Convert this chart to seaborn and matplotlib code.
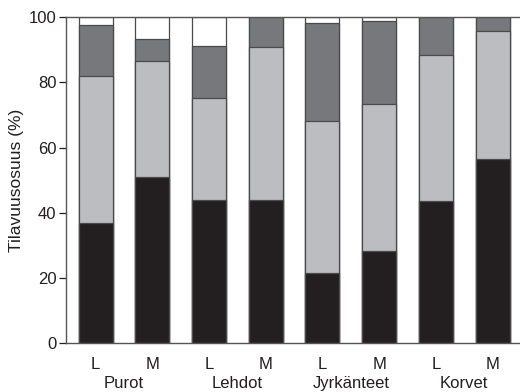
import matplotlib
matplotlib.use("Agg")
import matplotlib.pyplot as plt
import matplotlib.transforms as mtransforms
import numpy as np
import pandas as pd
import seaborn as sns

# Habitat groups and the two sample types within each
groups = ["Purot", "Lehdot", "Jyrkänteet", "Korvet"]
types = ["L", "M"]

# Volume shares (%) of each component per bar, bottom to top
share_black = [37.0, 51.1, 43.9, 43.9, 21.5, 28.3, 43.7, 56.5]
share_light = [44.9, 35.4, 31.4, 47.0, 46.6, 44.9, 44.7, 39.3]
share_dark = [15.5, 6.7, 15.8, 9.1, 30.2, 25.7, 11.6, 4.2]
share_white = [2.6, 6.8, 8.9, 0.0, 1.7, 1.1, 0.0, 0.0]

layer_names = ["black", "light", "dark", "white"]
layer_colors = ["#231f20", "#bcbdc0", "#77787b", "#ffffff"]

sns.set_style("ticks")
plt.rcParams["font.family"] = ["Liberation Sans", "DejaVu Sans"]

bar_ids = [f"{g}-{t}" for g in groups for t in types]
layers = np.array([share_black, share_light, share_dark, share_white])
tops = np.cumsum(layers, axis=0)

df = pd.DataFrame({"bar": bar_ids})
for name, top in zip(layer_names, tops):
    df[name] = top

fig = plt.figure(figsize=(5.2, 3.92), dpi=100)
ax = fig.add_axes([0.127, 0.1242, 0.877, 0.8324])

# Stack by drawing the cumulative totals from the top layer downwards
for name, color in reversed(list(zip(layer_names, layer_colors))):
    sns.barplot(data=df, x="bar", y=name, order=bar_ids, color=color,
                width=0.6, edgecolor="#4a4a4a", linewidth=0.9,
                saturation=1, ax=ax)

ax.set_xlim(-0.52, 7.52)
ax.set_ylim(0, 100)
ax.set_yticks([0, 20, 40, 60, 80, 100])
ax.set_xticks(range(len(bar_ids)))
ax.set_xticklabels([t for g in groups for t in types])
ax.tick_params(axis="both", labelsize=12, colors="#231f20", length=5, width=0.9, pad=2)
ax.tick_params(axis="x", length=0, pad=10)
ax.set_xlabel("")
ax.set_ylabel("Tilavuusosuus (%)", fontsize=12.5, color="#231f20", labelpad=3)

for side in ["top", "bottom"]:
    ax.spines[side].set_visible(True)
    ax.spines[side].set_color("#555555")
    ax.spines[side].set_linewidth(1.0)
ax.spines["left"].set_color("#555555")
ax.spines["left"].set_linewidth(1.0)
ax.spines["right"].set_visible(False)

trans = mtransforms.blended_transform_factory(ax.transData, fig.transFigure)
for i, g in enumerate(groups):
    ax.text(2 * i + 0.5, 0.002, g, transform=trans, ha="center", va="bottom",
            fontsize=12, color="#231f20")

fig.savefig("out.png", dpi=100)
